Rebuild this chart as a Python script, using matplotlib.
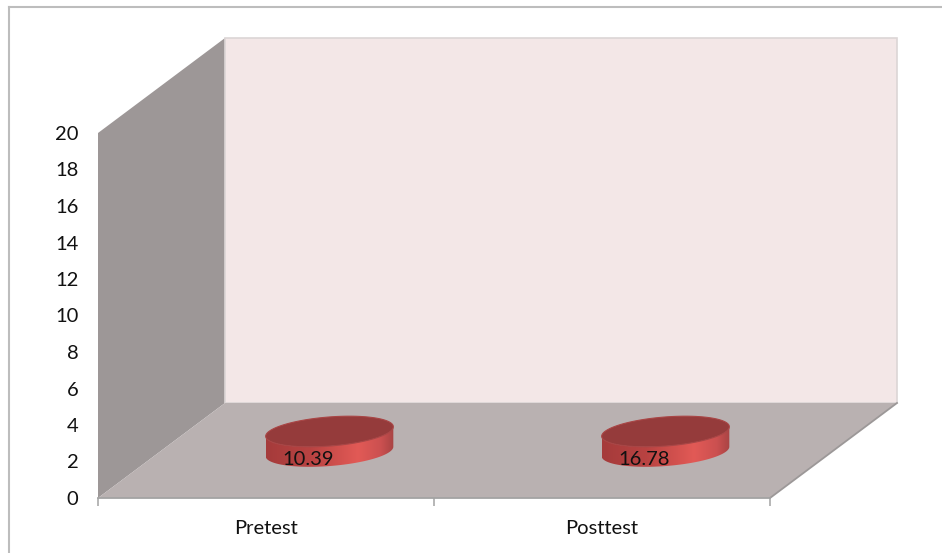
import numpy as np
import matplotlib
matplotlib.use('Agg')
import matplotlib.pyplot as plt
from matplotlib.patches import Polygon
from matplotlib.lines import Line2D
from matplotlib.colors import LinearSegmentedColormap

# ---- data ----
categories = ['Pretest', 'Posttest']
values = [10.39, 16.78]
y_ticks = [0, 2, 4, 6, 8, 10, 12, 14, 16, 18, 20]

plt.rcParams['font.family'] = ['Lato', 'DejaVu Sans']

W, H = 942, 553
fig = plt.figure(figsize=(W / 100, H / 100), dpi=100)
fig.patch.set_facecolor('white')

# front plane of the 3D box, in pixels
L, R, B, T = 98, 770, 498, 133
ax = fig.add_axes([L / W, 1 - B / H, (R - L) / W, (B - T) / H])
ax.set_xlim(-0.5, len(categories) - 0.5)
ax.set_ylim(y_ticks[0], y_ticks[-1])
ax.patch.set_visible(False)

ppx = (R - L) / len(categories)          # pixels per category unit
ppy = (B - T) / (y_ticks[-1] - y_ticks[0])  # pixels per value unit
DX = 127 / ppx   # depth offset (data units)
DY = 95 / ppy

x0, x1 = -0.5, len(categories) - 0.5
y0, y1 = y_ticks[0], y_ticks[-1]

# walls and floor
left_wall = Polygon([(x0, y0), (x0, y1), (x0 + DX, y1 + DY), (x0 + DX, y0 + DY)],
                    closed=True, fc='#9D9797', ec='none', clip_on=False, zorder=0)
back_wall = Polygon([(x0 + DX, y0 + DY), (x0 + DX, y1 + DY), (x1 + DX, y1 + DY), (x1 + DX, y0 + DY)],
                    closed=True, fc='#F3E7E7', ec='#DCD6D6', lw=1.2, clip_on=False, zorder=0)
floor = Polygon([(x0, y0), (x1, y0), (x1 + DX, y0 + DY), (x0 + DX, y0 + DY)],
                closed=True, fc='#B9B1B1', ec='none', clip_on=False, zorder=0.5)
for p in (left_wall, back_wall, floor):
    ax.add_patch(p)
ax.plot([x1, x1 + DX], [y0, y0 + DY], color='#9C9898', lw=1.3, clip_on=False, zorder=1)

# spines / ticks
for s in ('top', 'right', 'left'):
    ax.spines[s].set_visible(False)
ax.spines['bottom'].set_color('#A3A3A3')
ax.spines['bottom'].set_linewidth(1.3)
ax.spines['bottom'].set_zorder(1)

ax.set_yticks(y_ticks)
ax.set_yticklabels([str(t) for t in y_ticks], fontsize=14.5, color='#111111')
ax.tick_params(axis='y', length=0, pad=14)

ax.set_xticks(range(len(categories)))
ax.set_xticklabels(categories, fontsize=14.5, color='#111111')
ax.set_xticks(np.arange(len(categories) + 1) - 0.5, minor=True)
ax.tick_params(axis='x', which='major', length=0, pad=15.5)
ax.tick_params(axis='x', which='minor', length=5.5, width=1.1, color='#A3A3A3', direction='out')

# cylinders (flat discs)
a, b, ang, thick = 64.0, 14.5, np.deg2rad(4.5), 20.0   # pixels
eps = np.arctan((b / a) * np.tan(ang))
th = np.linspace(0, 2 * np.pi, 361)


def ell(t):
    ex = a * np.cos(t) * np.cos(ang) - b * np.sin(t) * np.sin(ang)
    ey = a * np.cos(t) * np.sin(ang) + b * np.sin(t) * np.cos(ang)
    return ex, ey


side_cmap = LinearSegmentedColormap.from_list(
    'side', [(0, '#A53B3B'), (0.35, '#B94342'), (0.72, '#E25A56'), (0.9, '#CB5050'), (1, '#A84444')])
grad = np.linspace(0, 1, 256)[None, :]

for i, v in enumerate(values):
    cx = i + 0.5 * DX
    cy = y0 + 0.5 * DY - 1.0 / ppy
    top_cy = cy + thick / ppy
    tl = np.linspace(np.pi - eps, 2 * np.pi - eps, 181)
    lx, ly = ell(tl)
    top_arc = np.column_stack([cx + lx / ppx, top_cy + ly / ppy])
    bot_arc = np.column_stack([cx + lx / ppx, cy + ly / ppy])[::-1]
    side_pts = np.vstack([top_arc, bot_arc])
    side = Polygon(side_pts, closed=True, fc='none', ec='none', zorder=3)
    ax.add_patch(side)
    im = ax.imshow(grad, cmap=side_cmap, aspect='auto', interpolation='bilinear',
                   extent=[side_pts[:, 0].min(), side_pts[:, 0].max(),
                           side_pts[:, 1].min(), side_pts[:, 1].max()], zorder=3)
    im.set_clip_path(side)
    ex, ey = ell(th)
    top = Polygon(np.column_stack([cx + ex / ppx, top_cy + ey / ppy]), closed=True,
                  fc='#953B3B', ec='#A94545', lw=0.8, zorder=4)
    ax.add_patch(top)
    ax.annotate(f'{v:.2f}', xy=(cx, cy), xytext=(-21, -8), textcoords='offset pixels',
                ha='center', va='center', fontsize=14.5, color='#111111', zorder=5)

ax.set_xlim(x0, x1)
ax.set_ylim(y0, y1)

# outer chart frame
fig.add_artist(Line2D([9 / W, 9 / W], [0, 1 - 7 / H], transform=fig.transFigure, color='#BDBDBD', lw=1.5))
fig.add_artist(Line2D([9 / W, 1], [1 - 7 / H, 1 - 7 / H], transform=fig.transFigure, color='#BDBDBD', lw=1.5))

fig.savefig('out.png', dpi=100)
